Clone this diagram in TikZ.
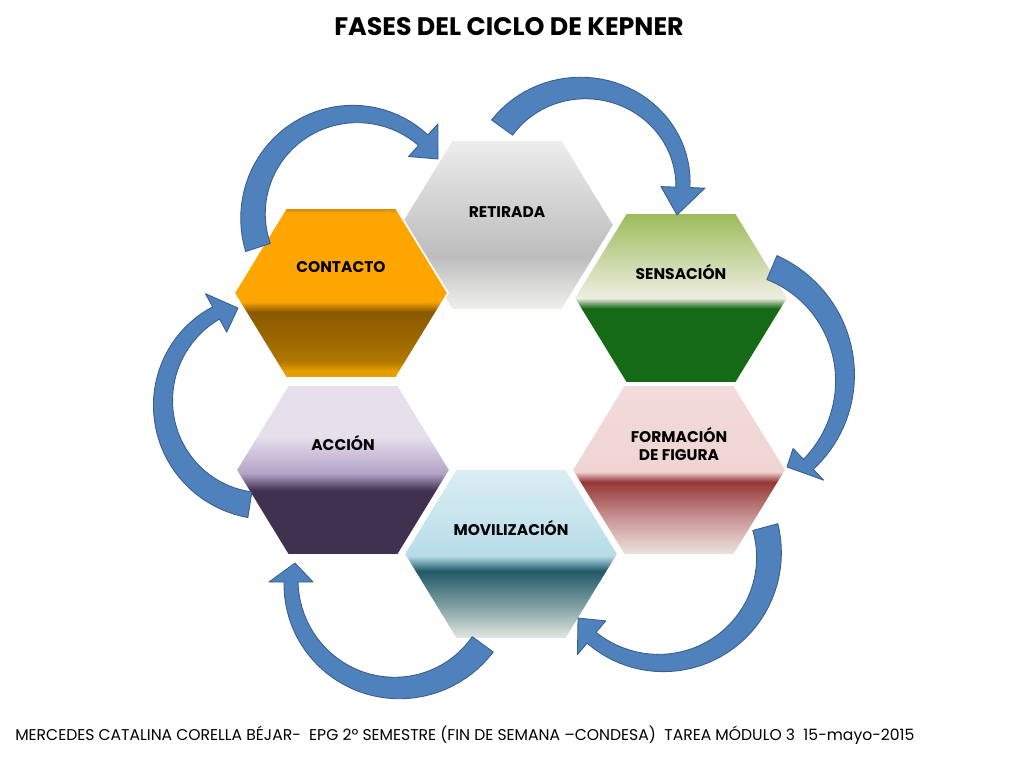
\documentclass[tikz,border=0pt]{standalone}
\usepackage{fontspec}
\setmainfont{Poppins}

\definecolor{arrowblue}{HTML}{4F81BD}
\definecolor{arrowline}{HTML}{385D8A}
\definecolor{retA}{HTML}{EDEDED}
\definecolor{retB}{HTML}{BDBDBD}
\definecolor{retC}{HTML}{F0F0EC}
\definecolor{conE}{HTML}{C8880C}
\definecolor{conA}{HTML}{FFA500}
\definecolor{conB}{HTML}{8A5A00}
\definecolor{conC}{HTML}{9A6600}
\definecolor{conD}{HTML}{B07800}
\definecolor{conF}{HTML}{E89E00}
\definecolor{senA}{HTML}{9BBB59}
\definecolor{senB}{HTML}{EFEEE3}
\definecolor{senC}{HTML}{156A16}
\definecolor{forA}{HTML}{F2DCDB}
\definecolor{forB}{HTML}{EFD4D2}
\definecolor{forC}{HTML}{963634}
\definecolor{forD}{HTML}{C89494}
\definecolor{forE}{HTML}{EEE5DE}
\definecolor{accA}{HTML}{E6E0EC}
\definecolor{accB}{HTML}{B3A2C7}
\definecolor{accC}{HTML}{403151}
\definecolor{movA}{HTML}{DBEEF3}
\definecolor{movB}{HTML}{B7DDE8}
\definecolor{movC}{HTML}{215968}
\definecolor{movD}{HTML}{7D9EA2}
\definecolor{movE}{HTML}{E4E9E1}

\pgfdeclareverticalshading{shretirada}{100bp}{color(0bp)=(retC); color(25bp)=(retC); color(41bp)=(retB); color(75bp)=(retA); color(100bp)=(retA)}
\pgfdeclareverticalshading{shcontacto}{100bp}{color(0bp)=(conF); color(27bp)=(conF); color(30bp)=(conD); color(37bp)=(conC); color(44.5bp)=(conB); color(47.5bp)=(conA); color(73.5bp)=(conA); color(75bp)=(conE); color(100bp)=(conE)}
\pgfdeclareverticalshading{shsensacion}{100bp}{color(0bp)=(senC); color(47bp)=(senC); color(50bp)=(senB); color(75bp)=(senA); color(100bp)=(senA)}
\pgfdeclareverticalshading{shformacion}{100bp}{color(0bp)=(forE); color(25bp)=(forE); color(36bp)=(forD); color(46.5bp)=(forC); color(49.5bp)=(forB); color(75bp)=(forA); color(100bp)=(forA)}
\pgfdeclareverticalshading{shaccion}{100bp}{color(0bp)=(accC); color(44bp)=(accC); color(49bp)=(accB); color(60bp)=(accA); color(100bp)=(accA)}
\pgfdeclareverticalshading{shmovilizacion}{100bp}{color(0bp)=(movE); color(25bp)=(movE); color(35bp)=(movD); color(45bp)=(movC); color(49.5bp)=(movB); color(75bp)=(movA); color(100bp)=(movA)}

% tail width, neck width, half width of the head
\def\wtail{26}
\def\wneck{14}
\def\whead{22}

% centre x, centre y, radius x, radius y, tail angle, head angle, tip x, tip y
\newcommand{\kepnerarrow}[8]{%
  \filldraw[arrowbody]
    plot[domain=0:1, samples=40, variable=\s]
      ({#1+(#3+(\wtail+(\wneck-\wtail)*\s)/2)*cos(#5+(#6-#5)*\s)},
       {#2+(#4+(\wtail+(\wneck-\wtail)*\s)/2)*sin(#5+(#6-#5)*\s)})
    -- ({#1+(#3+\whead)*cos(#6)},{#2+(#4+\whead)*sin(#6)})
    -- (#7,#8)
    -- ({#1+(#3-\whead)*cos(#6)},{#2+(#4-\whead)*sin(#6)})
    -- plot[domain=0:1, samples=40, variable=\s]
      ({#1+(#3-(\wneck+(\wtail-\wneck)*\s)/2)*cos(#6+(#5-#6)*\s)},
       {#2+(#4-(\wneck+(\wtail-\wneck)*\s)/2)*sin(#6+(#5-#6)*\s)})
    -- cycle;
}

\tikzset{
  hexcell/.style={draw=white, line width=1.2pt, line join=round},
  hexlabel/.style={font=\bfseries\fontsize{11}{13}\selectfont, align=center, inner sep=0pt},
  arrowbody/.style={fill=arrowblue, draw=arrowline, line width=0.6pt, line join=round}
}

\begin{document}
\begin{tikzpicture}[x=0.025cm, y=-0.025cm]
\useasboundingbox (0,0) rectangle (1024,768);
\fill[white] (0,0) rectangle (1024,768);

\node[font=\bfseries\fontsize{18}{21}\selectfont] (title) at (509,27) {FASES DEL CICLO DE KEPNER};

\foreach \name/\x/\y/\shd/\ty/\txt in {
  retirada/507/225/shretirada/212/RETIRADA,
  contacto/341/293/shcontacto/267/CONTACTO,
  sensacion/681/298/shsensacion/272/SENSACIÓN,
  accion/343/470/shaccion/443/ACCIÓN,
  formacion/679/470/shformacion/444/{FORMACIÓN\\DE FIGURA},
  movilizacion/511/554/shmovilizacion/528/MOVILIZACIÓN} {
  \shade[shading=\shd, hexcell] (\x-107,\y) -- (\x-55,\y-85) -- (\x+55,\y-85)
     -- (\x+107,\y) -- (\x+55,\y+85) -- (\x-55,\y+85) -- cycle;
  \node[hexlabel] (\name) at (\x,\ty) {\txt};
}

% contacto -> retirada -> sensacion -> formacion -> movilizacion -> accion -> contacto
\foreach \cx/\cy/\rx/\ry/\aa/\ab/\tx/\ty in {
  355/216/102/102/162/312/438/159,
  583/184/100/96/216/362/677/215,
  725/378/120/120/293/406/787/467,
  661/555/108/108/345/490/578/618,
  397/582/106/106/36/180/295/563,
  266/403/103/103/99/241/238/308} {
  \kepnerarrow{\cx}{\cy}{\rx}{\ry}{\aa}{\ab}{\tx}{\ty}
}

\node[font=\fontsize{11.1}{13}\selectfont, anchor=base west, inner sep=0pt] (footer) at (15,740)
  {MERCEDES CATALINA CORELLA BÉJAR-~ EPG 2º SEMESTRE (FIN DE SEMANA –CONDESA)~ TAREA MÓDULO 3~ 15-mayo-2015};

\end{tikzpicture}
\end{document}
